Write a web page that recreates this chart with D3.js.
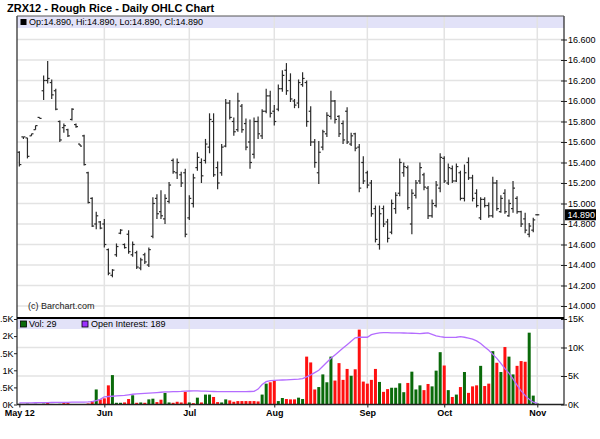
<!DOCTYPE html>
<html><head><meta charset="utf-8">
<script src="https://cdn.jsdelivr.net/npm/d3@7"></script>
<style>body{margin:0;background:#fff;} svg{display:block;font-family:"Liberation Sans",Arial,Helvetica,sans-serif;}</style>
</head><body><svg id="c" width="600" height="439"></svg>
<script>
// trading-day index 1..129 (May 2 2012 .. Nov 1 2012)
const highs = [15.51,15.65,15.64,15.68,15.76,15.84,16.25,16.39,16.21,16.12,
15.81,15.78,15.73,15.93,15.78,15.58,15.67,15.31,15.06,14.92,
14.83,14.85,14.56,14.36,14.61,14.75,14.61,14.74,14.63,14.54,
14.47,14.52,14.57,15.06,15.09,15.13,15.09,15.21,15.44,15.44,
15.31,15.34,15.08,15.29,15.50,15.44,15.63,15.88,15.88,15.41,
15.58,16.02,16.01,15.84,16.08,15.97,15.83,15.82,15.84,15.85,
15.92,16.12,16.10,15.96,16.16,16.30,16.37,16.27,16.02,16.21,
16.28,16.20,15.95,15.63,15.61,15.72,15.89,16.10,16.01,15.86,
15.81,15.94,15.69,15.69,15.58,15.46,15.32,15.23,14.98,14.98,
14.98,14.85,15.04,15.11,15.44,15.40,15.37,15.14,15.23,15.40,
15.30,15.17,15.04,15.22,15.49,15.46,15.39,15.37,15.39,15.32,
15.38,15.45,15.28,15.14,15.06,15.06,15.01,15.26,15.23,15.08,
15.14,15.04,15.22,15.07,14.93,14.91,14.81,14.86,14.89];
const lows = [15.36,15.63,15.44,15.66,15.72,15.83,16.01,16.17,16.02,15.91,
15.60,15.69,15.65,15.81,15.74,15.56,15.37,15.00,14.77,14.75,
14.75,14.57,14.30,14.28,14.48,14.70,14.56,14.51,14.48,14.36,
14.35,14.41,14.38,14.66,14.85,14.85,14.80,15.00,15.29,15.24,
15.16,14.67,14.84,14.96,15.32,15.20,15.39,15.49,15.26,15.14,
15.27,15.55,15.82,15.66,15.70,15.69,15.52,15.34,15.44,15.63,
15.63,15.88,15.84,15.76,15.90,16.09,16.06,15.99,15.93,15.93,
16.14,15.75,15.56,15.35,15.19,15.52,15.65,15.82,15.78,15.65,
15.58,15.58,15.56,15.51,15.11,15.19,15.15,14.87,14.62,14.55,
14.77,14.62,14.70,14.90,15.07,15.26,14.94,14.70,15.05,15.19,
15.13,14.85,14.86,14.96,15.11,15.20,15.18,15.20,15.21,15.03,
15.02,15.23,15.02,14.96,14.84,14.96,14.86,14.86,14.93,14.91,
14.90,14.87,14.91,14.90,14.77,14.71,14.67,14.72,14.89];
const opens = [15.50,15.65,15.64,15.66,15.72,15.84,16.10,16.20,16.18,16.10,
15.80,15.74,15.72,15.82,15.77,15.58,15.66,15.30,15.05,14.80,
14.82,14.80,14.55,14.30,14.50,14.71,14.60,14.70,14.50,14.52,
14.37,14.50,14.40,14.68,15.05,14.92,14.85,15.02,15.42,15.30,
15.28,15.30,14.86,15.00,15.35,15.40,15.42,15.55,15.80,15.35,
15.30,15.56,15.98,15.80,15.72,15.95,15.78,15.60,15.48,15.80,
15.66,15.90,16.05,15.90,15.92,16.12,16.30,16.20,16.00,15.98,
16.16,16.18,15.90,15.60,15.30,15.55,15.68,15.85,16.00,15.85,
15.78,15.90,15.58,15.68,15.55,15.40,15.30,15.20,14.95,14.60,
14.95,14.82,14.72,14.95,15.10,15.30,15.35,14.80,15.08,15.22,
15.28,15.15,14.88,14.98,15.15,15.44,15.20,15.34,15.22,15.30,
15.05,15.40,15.25,15.10,14.86,15.04,14.98,14.88,15.20,14.92,
15.10,14.88,14.95,15.05,14.92,14.85,14.70,14.74,14.89];
const closes = [15.38,15.65,15.46,15.68,15.76,15.83,16.20,16.22,16.06,15.92,
15.62,15.76,15.66,15.92,15.75,15.56,15.38,15.01,14.78,14.88,
14.76,14.60,14.32,14.35,14.58,14.74,14.57,14.53,14.60,14.38,
14.45,14.43,14.55,15.00,14.90,14.88,15.05,15.18,15.31,15.40,
15.20,14.70,15.05,15.25,15.45,15.27,15.58,15.82,15.28,15.20,
15.55,15.98,15.84,15.70,16.00,15.72,15.55,15.40,15.80,15.68,
15.90,16.05,15.88,15.80,16.12,16.25,16.10,16.02,15.96,16.18,
16.22,15.80,15.60,15.40,15.50,15.70,15.86,16.00,15.82,15.68,
15.62,15.60,15.66,15.54,15.15,15.22,15.18,14.90,14.65,14.90,
14.80,14.66,15.00,15.08,15.40,15.36,14.96,15.10,15.20,15.35,
15.16,14.88,15.00,15.18,15.45,15.22,15.35,15.22,15.36,15.05,
15.30,15.25,15.05,14.98,15.04,14.98,14.88,15.20,14.95,15.05,
14.92,15.00,15.15,14.92,14.80,14.74,14.78,14.84,14.89];
const volumes = [20,15,25,15,20,15,25,60,15,10,
20,40,40,10,10,10,15,30,100,440,
150,180,560,860,50,50,60,160,270,50,
60,50,150,170,70,140,340,60,50,80,
60,370,60,40,200,60,290,290,220,70,
60,150,120,80,100,100,100,100,100,90,
290,610,650,690,100,190,160,150,150,200,
160,1400,1230,440,510,880,650,1400,700,1210,
720,1040,840,1030,2190,670,610,720,1040,660,
370,450,490,490,620,360,630,960,440,560,
420,600,530,990,1530,1140,420,220,290,510,
950,340,530,560,1130,540,610,1560,1220,950,
1680,1400,880,1130,1270,1250,2100,260,29];
const volDir = ["u","u","u","u","u","u","u","d","u","u",
"u","d","d","u","u","u","u","d","d","u",
"d","d","d","u","u","u","d","d","u","d",
"u","d","u","u","d","d","u","u","d","d",
"d","d","u","d","u","d","u","u","d","d",
"u","u","d","d","d","d","d","d","d","d",
"u","u","d","d","u","u","d","d","d","u",
"u","d","d","d","u","u","u","u","d","d",
"d","d","u","d","d","d","d","d","d","u",
"d","d","u","u","u","u","d","u","u","u",
"d","d","u","u","u","d","u","d","u","d",
"u","d","d","d","u","d","d","u","d","u",
"d","u","u","d","d","d","u","u","u"];
const openInterest = [280,290,300,300,310,320,330,340,350,360,
370,380,390,400,410,420,430,450,500,700,
900,1350,1400,1450,1500,1550,1600,1700,1800,1850,
1900,1950,2000,2050,2100,2150,2200,2220,2250,2270,
2300,2350,2370,2380,2380,2350,2330,2300,2280,2270,
2260,2250,2250,2250,2250,2260,2270,2280,2300,2700,
3500,4000,4200,4250,4280,4300,4330,4360,4400,4450,
4550,4850,5200,5600,6000,6700,7400,8100,8700,9300,
9900,10500,11100,11700,11800,11800,11800,12250,12450,12550,
12600,12600,12580,12550,12560,12540,12520,12500,12480,12450,
12500,12550,12300,12050,11900,11800,11780,11780,11800,11900,
11800,11650,11450,11150,10700,10100,9500,8800,8100,7200,
6300,5500,4500,3400,2400,1600,900,400,189];
const monthIdx = [1,22,43,64,87,106,129];
const monthLabels = ["May 12","Jun","Jul","Aug","Sep","Oct","Nov"];
const priceTicks = [14.0,14.2,14.4,14.6,14.8,15.0,15.2,15.4,15.6,15.8,16.0,16.2,16.4,16.6];
const volTicks = [0,500,1000,1500,2000,2500];
const volTickLabels = ["0K","0.5K","1K","1.5K","2K","2.5K"];
const oiTicks = [0,5000,10000,15000];
const oiTickLabels = ["0K","5K","10K","15K"];
const lastPrice = 14.89;

const svg = d3.select("#c");
const L = 17, R = 564, T = 16, MID = 318, B = 404.5, VT = 319;
const days = d3.range(1, highs.length + 1);
const x = d3.scaleLinear().domain([0,129]).range([15.3,537.3]);
const y = d3.scaleLinear().domain([14.0,16.6]).range([306,39.5]);
const yv = d3.scaleLinear().domain([0,2500]).range([B,VT]);
const yo = d3.scaleLinear().domain([0,15000]).range([B,VT]);

svg.append("rect").attr("width",600).attr("height",439).attr("fill","#fff");
// legend bands
svg.append("rect").attr("x",L).attr("y",T).attr("width",R-L).attr("height",12).attr("fill","#e2e2f8");
svg.append("rect").attr("x",L).attr("y",VT).attr("width",R-L).attr("height",10).attr("fill","#e2e2f8");

const grid = svg.append("g").attr("stroke","#e3e3e3").attr("stroke-width",1.5);
grid.selectAll(".hp").data(priceTicks).join("line")
  .attr("x1",L).attr("x2",R).attr("y1",d=>y(d)).attr("y2",d=>y(d));
grid.selectAll(".ho").data(oiTicks.slice(1,3)).join("line")
  .attr("x1",L).attr("x2",R).attr("y1",d=>yo(d)).attr("y2",d=>yo(d));
grid.selectAll(".v").data(monthIdx.slice(1)).join("line")
  .attr("x1",d=>x(d)).attr("x2",d=>x(d)).attr("y1",T).attr("y2",B);

// OHLC bars
const bars = svg.append("g").attr("stroke","#2a2a2a").attr("stroke-width",1.2);
days.forEach((d,i)=>{
  const cx = x(d);
  const yh = y(highs[i]), yl = y(lows[i]);
  bars.append("line").attr("x1",cx).attr("x2",cx).attr("y1",yh - (yl-yh<1?0.5:0)).attr("y2",yl + (yl-yh<1?0.5:0));
  bars.append("line").attr("x1",cx-2).attr("x2",cx).attr("y1",y(opens[i])).attr("y2",y(opens[i]));
  bars.append("line").attr("x1",cx).attr("x2",cx+2).attr("y1",y(closes[i])).attr("y2",y(closes[i]));
});

// volume bars
svg.append("g").selectAll("rect").data(days).join("rect")
  .attr("x",d=>x(d)-1.5).attr("width",3)
  .attr("y",(d,i)=>yv(volumes[i])).attr("height",(d,i)=>B-yv(volumes[i]))
  .attr("fill",(d,i)=>volDir[i]==="u"?"#0a6a0a":"#ff1010");

// open interest line
svg.append("path").datum(days)
  .attr("fill","none").attr("stroke","#b46cff").attr("stroke-width",1.3)
  .attr("d",d3.line().x(d=>x(d)).y((d,i)=>yo(openInterest[i])));

// frame
const fr = svg.append("g").attr("stroke","#222");
fr.append("line").attr("x1",L).attr("x2",L).attr("y1",T).attr("y2",B).attr("stroke-width",1.2);
fr.append("line").attr("x1",R).attr("x2",R).attr("y1",T).attr("y2",B).attr("stroke-width",1.2);
fr.append("line").attr("x1",L).attr("x2",R).attr("y1",T).attr("y2",T).attr("stroke","#555").attr("stroke-width",1);
fr.append("line").attr("x1",L).attr("x2",R).attr("y1",MID).attr("y2",MID).attr("stroke","#000").attr("stroke-width",2);
fr.append("line").attr("x1",L).attr("x2",R).attr("y1",B).attr("y2",B).attr("stroke-width",1.5);

function styleAxis(g, bold){
  g.select(".domain").remove();
  g.selectAll("line").attr("stroke","#222");
  g.selectAll("text").attr("font-size","9px").attr("fill","#000")
   .attr("font-family",'"Liberation Sans",Arial,sans-serif')
   .attr("font-weight",bold?"bold":"normal");
}
// price axis right
const pa = svg.append("g").attr("transform",`translate(${R},0)`)
  .call(d3.axisRight(y).tickValues(priceTicks).tickFormat(d3.format(".3f")).tickSize(3).tickPadding(1));
styleAxis(pa,false);
pa.selectAll(".tick line").attr("x1",-3);
// last price marker
const lp = svg.append("g").attr("transform",`translate(${R+1},${y(lastPrice)})`);
lp.append("rect").attr("x",0).attr("y",-5.5).attr("width",31).attr("height",11).attr("fill","#000");
lp.append("text").attr("x",2.5).attr("dy","0.35em").attr("font-size","9px").attr("fill","#fff").text(d3.format(".3f")(lastPrice));

// volume axes
const va = svg.append("g").attr("transform",`translate(${L},0)`)
  .call(d3.axisLeft(yv).tickValues(volTicks).tickFormat((d,i)=>volTickLabels[i]).tickSize(3).tickPadding(0.5));
styleAxis(va,false);
const oa = svg.append("g").attr("transform",`translate(${R},0)`)
  .call(d3.axisRight(yo).tickValues(oiTicks).tickFormat((d,i)=>oiTickLabels[i]).tickSize(3).tickPadding(1));
styleAxis(oa,false);
oa.selectAll(".tick line").attr("x1",-3);
// x axis
const xa = svg.append("g").attr("transform",`translate(0,${B})`)
  .call(d3.axisBottom(x).tickValues(monthIdx).tickFormat((d,i)=>monthLabels[i]).tickSize(3).tickPadding(2));
styleAxis(xa,true);

// titles and legends
svg.append("text").attr("x",7).attr("y",12).attr("font-size","11px").attr("font-weight","bold")
  .text("ZRX12 - Rough Rice - Daily OHLC Chart");
svg.append("rect").attr("x",20.5).attr("y",19).attr("width",6).attr("height",6).attr("fill","#000");
const f = d3.format(".3f");
const li = highs.length-1;
svg.append("text").attr("x",29).attr("y",25.3).attr("font-size","9px")
  .text(`Op:${f(opens[li])}, Hi:${f(highs[li])}, Lo:${f(lows[li])}, Cl:${f(closes[li])}`);
svg.append("text").attr("x",28).attr("y",309).attr("font-size","9px").attr("fill","#222").text("(c) Barchart.com");
svg.append("rect").attr("x",20.5).attr("y",321).attr("width",6).attr("height",6).attr("fill","#0a6a0a").attr("stroke","#000").attr("stroke-width",0.8);
svg.append("text").attr("x",29).attr("y",327.3).attr("font-size","9px").text(`Vol: ${volumes[li]}`);
svg.append("rect").attr("x",82).attr("y",321).attr("width",6).attr("height",6).attr("fill","#9a30ff").attr("stroke","#000").attr("stroke-width",0.8);
svg.append("text").attr("x",91).attr("y",327.3).attr("font-size","9px").text(`Open Interest: ${openInterest[li]}`);
</script></body></html>
